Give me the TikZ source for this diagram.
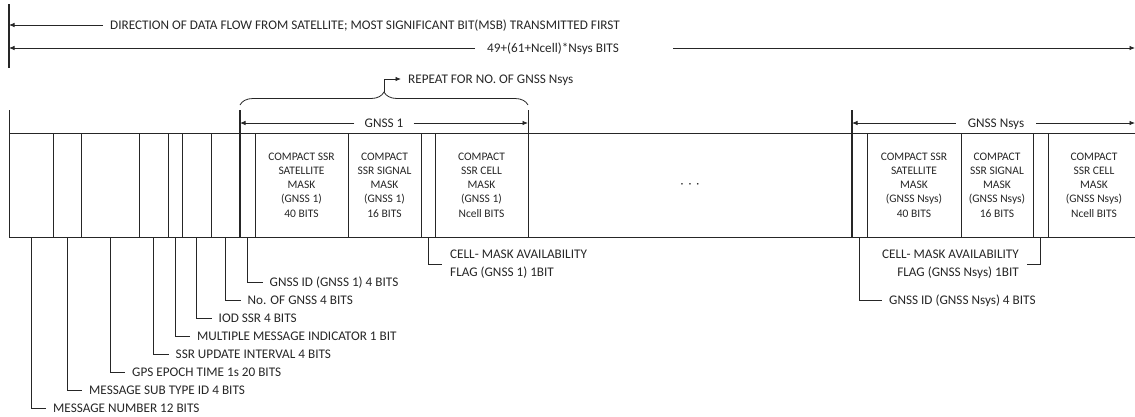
\documentclass[tikz,border=0pt]{standalone}
\usepackage{fontspec}
\setmainfont{Carlito}
\usetikzlibrary{arrows.meta,positioning,calc,decorations.pathreplacing}
\definecolor{inkgrey}{RGB}{38,38,38}
\tikzset{
    cell/.style={draw=inkgrey, line width=0.8pt, minimum height=104pt,
                 minimum width=#1, inner sep=0pt, outer sep=0pt,
                 anchor=north west, align=center, text=inkgrey,
                 font=\fontsize{11.5}{14.3}\selectfont},
    tag/.style={inner xsep=7pt, inner ysep=0pt, anchor=west, text=inkgrey,
                text height=8.5pt, text depth=0pt,
                font=\fontsize{13.2}{18.3}\selectfont},
    ftag/.style={inner xsep=8pt, inner ysep=0pt, align=#1, text=inkgrey,
                 font=\fontsize{13.2}{18.3}\selectfont},
    lead/.style={draw=inkgrey, line width=0.8pt},
    bar/.style={draw=inkgrey, line width=1.8pt},
}

\begin{document}
\begin{tikzpicture}[
    x=1pt, y=-1pt,
    arr/.style={-{Latex[length=5.5pt,width=4.5pt]}, line width=0.8pt, inkgrey}
]
    \useasboundingbox (0,0) rectangle (1135,416);

    % direction and total length
    \coordinate (ltop) at (9,4);
    \coordinate (lbot) at (9,68);
    \draw[bar] (ltop) -- (lbot);
    \node[tag] (dflow) at (103,25) {DIRECTION OF DATA FLOW FROM SATELLITE; MOST SIGNIFICANT BIT(MSB) TRANSMITTED FIRST};
    \draw[arr] (dflow.west) -- (dflow.west -| ltop);
    \node[tag, inner xsep=12pt] (nbits) at (475,48) {49+(61+Ncell)*Nsys BITS};
    \draw[arr] (nbits.west) -- (nbits.west -| ltop);
    \coordinate (nright) at (673,48);
    \coordinate (nend) at (1135,48);
    \draw[arr] (nright) -- (nend);

    % message fields
    \node[cell=44pt] (c1) at (9,133) {};
    \node[cell=28pt] (c2) at (53,133) {};
    \node[cell=58pt] (c3) at (81,133) {};
    \node[cell=29pt] (c4) at (139,133) {};
    \node[cell=14pt] (c5) at (168,133) {};
    \node[cell=29pt] (c6) at (182,133) {};
    \node[cell=29pt] (c7) at (211,133) {};
    \node[cell=15pt] (id1) at (240,133) {};
    \node[cell=93pt] (sat1) at (255,133) {COMPACT SSR\\SATELLITE\\MASK\\(GNSS 1)\\40 BITS};
    \node[cell=73pt] (sig1) at (348,133) {COMPACT\\SSR SIGNAL\\MASK\\(GNSS 1)\\16 BITS};
    \node[cell=14pt] (flg1) at (421,133) {};
    \node[cell=93pt] (cel1) at (435,133) {COMPACT\\SSR CELL\\MASK\\(GNSS 1)\\Ncell BITS};
    \node[cell=324pt] (more) at (528,133) {·\hspace{5pt}·\hspace{5pt}·};
    \node[cell=15pt] (idn) at (852,133) {};
    \node[cell=94pt] (satn) at (867,133) {COMPACT SSR\\SATELLITE\\MASK\\(GNSS Nsys)\\40 BITS};
    \node[cell=72pt] (sign) at (961,133) {COMPACT\\SSR SIGNAL\\MASK\\(GNSS Nsys)\\16 BITS};
    \node[cell=15pt] (flgn) at (1033,133) {};
    \node[cell=92pt] (celn) at (1048,133) {COMPACT\\SSR CELL\\MASK\\(GNSS Nsys)\\Ncell BITS};

    % header above the fields
    \coordinate (htop) at (9,110);
    \draw[lead] (c1.north west) -- (htop);
    \draw[bar] (id1.south west) -- (id1.west |- htop);
    \draw[lead] (cel1.north east) -- (cel1.east |- htop);
    \draw[bar] (idn.south west) -- (idn.west |- htop);
    \node[tag, anchor=center, inner xsep=10pt] (g1) at (384,123) {GNSS 1};
    \draw[arr] (g1.west) -- (g1.west -| id1.west);
    \draw[arr] (g1.east) -- (g1.east -| cel1.east);
    \node[tag, anchor=center, inner xsep=12pt] (gn) at (996,123) {GNSS Nsys};
    \draw[arr] (gn.west) -- (gn.west -| idn.west);
    \coordinate (gend) at (1135,123);
    \draw[arr] (gn.east) -- (gend);

    % repeat brace
    \draw[lead, decorate, decoration={brace, amplitude=13pt}]
        (id1.west |- 0,105) -- (cel1.east |- 0,105);
    \coordinate (btip) at (384,92);
    \node[tag] (rep) at (401,79) {REPEAT FOR NO. OF GNSS Nsys};
    \draw[arr] (btip) |- (rep.west);

    % field labels
    \node[tag] (l1) at (46,408) {MESSAGE NUMBER 12 BITS};
    \node[tag] (l2) at (82,390) {MESSAGE SUB TYPE ID 4 BITS};
    \node[tag] (l3) at (125,372) {GPS EPOCH TIME 1s 20 BITS};
    \node[tag] (l4) at (168.5,354) {SSR UPDATE INTERVAL 4 BITS};
    \node[tag] (l5) at (190,336) {MULTIPLE MESSAGE INDICATOR 1 BIT};
    \node[tag] (l6) at (211.5,318) {IOD SSR 4 BITS};
    \node[tag] (l7) at (240.5,300) {No. OF GNSS 4 BITS};
    \node[tag] (l8) at (262.5,282) {GNSS ID (GNSS 1) 4 BITS};
    \draw[lead] (c1.south) |- (l1.west);
    \draw[lead] (c2.south) |- (l2.west);
    \draw[lead] (c3.south) |- (l3.west);
    \draw[lead] (c4.south) |- (l4.west);
    \draw[lead] (c5.south) |- (l5.west);
    \draw[lead] (c6.south) |- (l6.west);
    \draw[lead] (c7.south) |- (l7.west);
    \draw[lead] (id1.south) |- (l8.west);

    \node[ftag=left, anchor=west] (f1) at (442,264) {CELL- MASK AVAILABILITY\\FLAG (GNSS 1) 1BIT};
    \draw[lead] (flg1.south) |- (f1.west);
    \node[ftag=right, anchor=east] (fn) at (1027,264) {CELL- MASK AVAILABILITY\\FLAG (GNSS Nsys) 1BIT};
    \draw[lead] (flgn.south) |- (fn.east);
    \node[tag] (ln) at (882,300) {GNSS ID (GNSS Nsys) 4 BITS};
    \draw[lead] (idn.south) |- (ln.west);
\end{tikzpicture}
\end{document}
